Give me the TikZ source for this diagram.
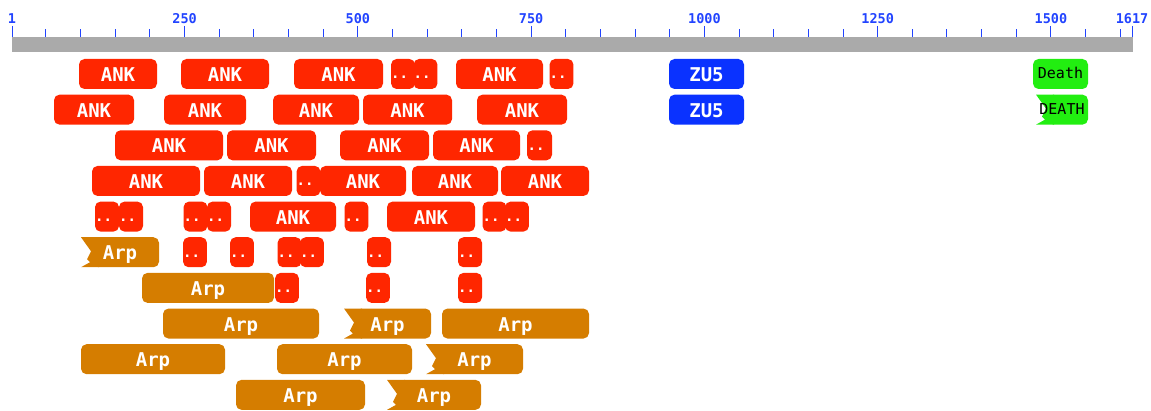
\documentclass[tikz,border=0pt]{standalone}
\usepackage{fontspec}
\newfontfamily\monof{DejaVu Sans Mono}
\newcommand{\bigf}{\monof\bfseries\fontsize{19}{19}\selectfont}
\newcommand{\dotf}{\monof\bfseries\fontsize{14}{14}\selectfont}
\newcommand{\smallf}{\monof\fontsize{15}{15}\selectfont}
\newcommand{\axf}{\monof\bfseries\fontsize{13.5}{13.5}\selectfont}
\definecolor{ankred}{HTML}{FF2600}
\definecolor{arporange}{HTML}{D57D00}
\definecolor{zublue}{HTML}{0A32FF}
\definecolor{dgreen}{HTML}{22EE11}
\definecolor{axisgray}{HTML}{AAAAAA}
\definecolor{tickblue}{HTML}{2244FF}
\tikzset{
  dom/.style={rounded corners=5.5pt, inner sep=0pt, minimum height=30pt, font=\bigf, text=white, text height=15pt, text depth=0pt},
  ank/.style={dom, fill=ankred},
  arp/.style={dom, fill=arporange},
  zu/.style={dom, fill=zublue},
  dd/.style={dom, fill=ankred, font=\dotf, text height=10pt},
  gr/.style={dom, fill=dgreen, font=\smallf, text=black, text height=10pt},
  lbl/.style={inner sep=0pt, font=\bigf, text=white, text height=15pt, text depth=0pt, minimum height=30pt},
  glbl/.style={lbl, font=\smallf, text=black, text height=10pt},
  axlbl/.style={inner sep=0pt, font=\axf, text=tickblue, anchor=base},
  tick/.style={draw=tickblue, line width=1pt},
}
\newcommand{\dbox}[6]{%
  \pgfmathsetmacro{\dbX}{(#3+#4)/2}%
  \pgfmathsetmacro{\dbW}{#4-#3}%
  \pgfmathsetmacro{\dbY}{74+35.65*(#5-1)}%
  \node[#2, minimum width=\dbW pt] (#1) at (\dbX,\dbY) {#6};}
\newcommand{\nbox}[7]{%
  \pgfmathsetmacro{\nbT}{59+35.65*(#5-1)}%
  \pgfmathsetmacro{\nbX}{(#3+#4)/2}%
  \fill[#2, rounded corners=5.5pt] (#3+12,\nbT) rectangle (#4,\nbT+30);
  \fill[#2] (#3,\nbT) -- (#3+18,\nbT) -- (#3+18,\nbT+30) -- (#3,\nbT+30) -- (#3+9,\nbT+25) -- (#3+6,\nbT+22) -- (#3+10,\nbT+14) -- cycle;
  \node[#6] (#1) at (\nbX,\nbT+15) {#7};}
\newcommand{\dotlab}{..\hspace*{7pt}}
\begin{document}
\begin{tikzpicture}[x=1pt,y=-1pt]
\useasboundingbox (0,0) rectangle (1151,411);
% axis
\fill[axisgray] (12,37) rectangle (1133,52);
\foreach \p in {50,100,...,1600}{
  \pgfmathsetmacro{\tx}{12+(\p-1)*0.6930693}
  \draw[tick] (\tx,29.5) -- (\tx,37);
}
\foreach \p/\nm in {1/a,250/b,500/c,750/d,1000/e,1250/f,1500/g,1617/h}{
  \pgfmathsetmacro{\tx}{12+(\p-1)*0.6930693}
  \draw[tick] (\tx,26) -- (\tx,37);
  \node[axlbl] (lab\nm) at (\tx,23.3) {\p};
}
% row 1
\dbox{a1}{ank}{79}{157}{1}{ANK}
\dbox{a2}{ank}{181}{269}{1}{ANK}
\dbox{a3}{ank}{294}{383}{1}{ANK}
\dbox{a4}{dd}{392}{414}{1}{\dotlab}
\dbox{a5}{dd}{414}{437}{1}{\dotlab}
\dbox{a6}{ank}{456}{543}{1}{ANK}
\dbox{a7}{dd}{550}{573}{1}{\dotlab}
\dbox{z1}{zu}{669}{744}{1}{ZU5}
\dbox{d1}{gr}{1033}{1088}{1}{Death}
% row 2
\dbox{b1}{ank}{54}{134}{2}{ANK}
\dbox{b2}{ank}{164}{246}{2}{ANK}
\dbox{b3}{ank}{273}{359}{2}{ANK}
\dbox{b4}{ank}{363}{452}{2}{ANK}
\dbox{b5}{ank}{477}{567}{2}{ANK}
\dbox{z2}{zu}{669}{744}{2}{ZU5}
\nbox{d2}{dgreen}{1036}{1088}{2}{glbl}{DEATH}
% row 3
\dbox{c1}{ank}{115}{223}{3}{ANK}
\dbox{c2}{ank}{227}{316}{3}{ANK}
\dbox{c3}{ank}{340}{429}{3}{ANK}
\dbox{c4}{ank}{433}{520}{3}{ANK}
\dbox{c5}{dd}{527}{552}{3}{\dotlab}
% row 4
\dbox{e1}{ank}{92}{200}{4}{ANK}
\dbox{e2}{ank}{204}{292}{4}{ANK}
\dbox{e3}{dd}{297}{320}{4}{\dotlab}
\dbox{e4}{ank}{320}{406}{4}{ANK}
\dbox{e5}{ank}{412}{498}{4}{ANK}
\dbox{e6}{ank}{501}{589}{4}{ANK}
% row 5
\dbox{f1}{dd}{95}{119}{5}{\dotlab}
\dbox{f2}{dd}{119}{143}{5}{\dotlab}
\dbox{f3}{dd}{184}{207}{5}{\dotlab}
\dbox{f4}{dd}{207}{231}{5}{\dotlab}
\dbox{f5}{ank}{250}{336}{5}{ANK}
\dbox{f6}{dd}{346}{367}{5}{\dotlab}
\dbox{f7}{ank}{387}{475}{5}{ANK}
\dbox{f8}{dd}{483}{506}{5}{\dotlab}
\dbox{f9}{dd}{506}{528}{5}{\dotlab}
% row 6
\nbox{g1}{arporange}{81}{159}{6}{lbl}{Arp}
\dbox{g2}{dd}{184}{206}{6}{\dotlab}
\dbox{g3}{dd}{231}{253}{6}{\dotlab}
\dbox{g4}{dd}{278}{301}{6}{\dotlab}
\dbox{g5}{dd}{301}{323}{6}{\dotlab}
\dbox{g6}{dd}{367}{391}{6}{\dotlab}
\dbox{g7}{dd}{458}{482}{6}{\dotlab}
% row 7
\dbox{h1}{arp}{142}{274}{7}{Arp}
\dbox{h2}{dd}{277}{297}{7}{\dotlab}
\dbox{h3}{dd}{367}{389}{7}{\dotlab}
\dbox{h4}{dd}{458}{482}{7}{\dotlab}
% row 8
\dbox{i1}{arp}{163}{319}{8}{Arp}
\nbox{i2}{arporange}{344}{431}{8}{lbl}{Arp}
\dbox{i3}{arp}{442}{589}{8}{Arp}
% row 9
\dbox{j1}{arp}{81}{225}{9}{Arp}
\dbox{j2}{arp}{277}{412}{9}{Arp}
\nbox{j3}{arporange}{426}{523}{9}{lbl}{Arp}
% row 10
\dbox{k1}{arp}{236}{365}{10}{Arp}
\nbox{k2}{arporange}{387}{481}{10}{lbl}{Arp}
\end{tikzpicture}
\end{document}
